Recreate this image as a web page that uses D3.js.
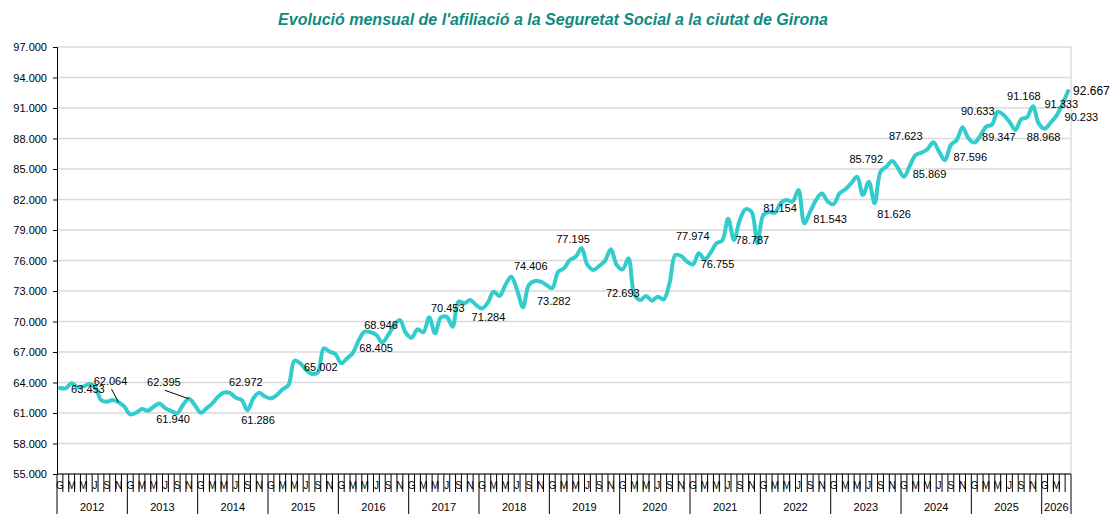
<!DOCTYPE html>
<html>
<head>
<meta charset="utf-8">
<script src="https://cdn.jsdelivr.net/npm/d3@7"></script>
<style>
    body { margin: 0; background: #fff; }
    svg { display: block; font-family: "Liberation Sans", Arial, sans-serif; }
</style>
</head>
<body>
<script>
const years = ['2012', '2013', '2014', '2015', '2016', '2017', '2018', '2019', '2020', '2021', '2022', '2023', '2024', '2025', '2026'];
const monthLetters = ['G', 'F', 'M', 'A', 'M', 'J', 'J', 'A', 'S', 'O', 'N', 'D'];

// afiliats a la Seguretat Social, mensual, gener 2012 - maig 2026
const afiliats = [
    63453, 63430, 63920, 63530, 63600, 63850, 63590, 62280, 62110, 62280, 62064, 61620,
    60870, 61030, 61390, 61230, 61620, 61940, 61460, 61200, 60970, 61790, 62395, 61790,
    61030, 61460, 61950, 62610, 63020, 62972, 62500, 62280, 61286, 62440, 63000, 62610,
    62440, 62770, 63330, 63750, 66140, 65890, 65230, 64840, 65002, 67360, 67030, 66800,
    65890, 66380, 66930, 68180, 69000, 68946, 68670, 67920, 68670, 69560, 70150, 68900,
    68405, 69230, 68940, 70410, 68840, 70410, 70453, 69490, 71950, 71790, 72110, 71620,
    71284, 71850, 72930, 72510, 73590, 74406, 73100, 71400, 73590, 73980, 73920, 73590,
    73282, 74900, 75230, 76050, 76370, 77195, 75560, 75070, 75460, 75980, 77100, 75560,
    75130, 76210, 72693, 72110, 72510, 72050, 72440, 72180, 73760, 76540, 76440, 75880,
    75620, 76710, 76120, 76755, 77690, 77974, 80100, 78020, 80000, 81050, 80800, 77700,
    80470, 80800, 80700, 81690, 81950, 81790, 82930, 79660, 80800, 81950, 82600, 81790,
    81543, 82600, 83000, 83590, 84240, 82440, 83750, 81626, 84740, 85230, 85792, 85070,
    84240, 85310, 86380, 86610, 86940, 87623, 86700, 85869, 87360, 87850, 89100, 88020,
    87596, 88250, 89160, 89347, 90633, 90310, 89650, 88840, 89890, 90090, 91168, 89460,
    88968, 89550, 90233, 91333, 92667
];

const yTicks = [55000, 58000, 61000, 64000, 67000, 70000, 73000, 76000, 79000, 82000, 85000, 88000, 91000, 94000, 97000];

// etiquetes de dades: mes (index) i text
const labelIdx = [0, 10, 22, 17, 29, 32, 44, 53, 60, 66, 72, 77, 84, 89, 98, 113, 111, 119, 122, 132, 142, 139, 149, 151, 156, 160, 159, 166, 168, 171, 170, 172];
const labelText = ['63.453', '62.064', '62.395', '61.940', '62.972', '61.286', '65.002', '68.946', '68.405', '70.453', '71.284', '74.406', '73.282', '77.195', '72.693', '77.974', '76.755', '78.787', '81.154', '81.543', '85.792', '81.626', '87.623', '85.869', '87.596', '90.633', '89.347', '91.168', '88.968', '91.333', '90.233', '92.667'];

// desplaçament de cada etiqueta respecte del punt
const labelNudge = [
    [28, 1], [-8, -21], [-25, -16.5], [13.5, 16], [16, -11], [10.5, 10], [3, -5.5], [10.5, -7],
    [-35.5, 10.5], [1, -8.5], [6.5, 9], [19.5, -11], [1.5, 12.5], [-8.5, -9.5], [-11.5, -1], [-29.5, -4.5],
    [7, 11.5], [-5, -3], [5, -4.5], [-3.5, 15], [-26, -2], [19.5, 10.5], [-27.5, -6.5], [-15.5, 14],
    [-4, 14], [-20, -0.5], [7, 12], [-9, -10], [-1, 8], [-1, -0.5], [25, 1.5], [5, 0]
];
const leaderLabels = ['62.064', '62.395'];

const margin = { top: 47, right: 41, bottom: 40, left: 57 },
    W = 1112, H = 514,
    width = W - margin.left - margin.right,
    height = H - margin.top - margin.bottom;

const locale = d3.formatLocale({ decimal: ',', thousands: '.', grouping: [3], currency: ['', ' €'] });
const numFormat = locale.format(',d');

const n = afiliats.length;
const xScale = d3.scaleBand()
    .domain(d3.range(n))
    .range([0, width]);
const bw = xScale.bandwidth();
const cx = i => xScale(i) + bw / 2;

const yScale = d3.scaleLinear()
    .domain([55000, 97000])
    .range([height, 0]);

const svgRoot = d3.select('body').append('svg')
    .attr('width', W)
    .attr('height', H);

// title
svgRoot.append('text')
    .attr('x', 553)
    .attr('y', 25)
    .attr('text-anchor', 'middle')
    .style('font-size', '16px')
    .style('font-weight', 'bold')
    .style('font-style', 'italic')
    .style('fill', '#0f8a80')
    .text("Evolució mensual de l'afiliació  a la Seguretat Social a la ciutat de Girona");

const svg = svgRoot.append('g')
    .attr('transform', 'translate(' + margin.left + ',' + margin.top + ')');

// gridlines
svg.append('g')
    .attr('class', 'grid')
    .selectAll('line')
    .data(yTicks)
    .enter().append('line')
    .attr('x1', 0)
    .attr('x2', width)
    .attr('y1', d => yScale(d))
    .attr('y2', d => yScale(d))
    .style('stroke', '#d9d9d9')
    .style('stroke-width', 1.3);
svg.append('line')
    .attr('x1', width).attr('x2', width)
    .attr('y1', 0).attr('y2', height)
    .style('stroke', '#d9d9d9')
    .style('stroke-width', 1.3);

// y axis
const yAxis = svg.append('g')
    .call(d3.axisLeft(yScale).tickValues(yTicks).tickFormat(numFormat).tickSize(4).tickPadding(6));
yAxis.select('.domain').style('stroke', '#000');
yAxis.selectAll('text')
    .style('font-size', '11px')
    .style('font-family', '"Liberation Sans", Arial, sans-serif')
    .style('fill', '#000');

// x axis (two levels: months and years)
const xAxis = svg.append('g')
    .attr('transform', 'translate(0,' + height + ')');
xAxis.append('line')
    .attr('x1', 0).attr('x2', width)
    .attr('y1', 0).attr('y2', 0)
    .style('stroke', '#000');
xAxis.selectAll('.mtick')
    .data(d3.range(n + 1))
    .enter().append('line')
    .attr('class', 'mtick')
    .attr('x1', i => (i < n ? xScale(i) : width))
    .attr('x2', i => (i < n ? xScale(i) : width))
    .attr('y1', 0)
    .attr('y2', i => (i % 12 === 0 || i === n) ? 40 : 18)
    .style('stroke', '#000')
    .style('stroke-width', 1);
xAxis.selectAll('.mlabel')
    .data(d3.range(n).filter(i => i % 2 === 0 && i < n - 1))
    .enter().append('text')
    .attr('class', 'mlabel')
    .attr('x', i => cx(i))
    .attr('y', 15)
    .attr('text-anchor', 'middle')
    .style('font-size', '10px')
    .text(i => monthLetters[i % 12]);
xAxis.selectAll('.ylabel')
    .data(years)
    .enter().append('text')
    .attr('class', 'ylabel')
    .attr('x', (d, k) => {
        const a = xScale(k * 12);
        const b = (k + 1) * 12 < n ? xScale((k + 1) * 12) : width;
        return (a + b) / 2;
    })
    .attr('y', 37)
    .attr('text-anchor', 'middle')
    .style('font-size', '11px')
    .text(d => d);

// line
const line = d3.line()
    .x((d, i) => cx(i))
    .y(d => yScale(d))
    .curve(d3.curveCatmullRom.alpha(0.5));

svg.append('path')
    .datum(afiliats)
    .attr('d', line)
    .style('fill', 'none')
    .style('stroke', '#33cccc')
    .style('stroke-width', 4)
    .style('stroke-linejoin', 'round')
    .style('stroke-linecap', 'round');

// data labels
const labels = labelIdx.map((i, k) => ({ i: i, text: labelText[k], dx: labelNudge[k][0], dy: labelNudge[k][1] }));

svg.selectAll('.leader')
    .data(labels.filter(d => leaderLabels.indexOf(d.text) >= 0))
    .enter().append('line')
    .attr('class', 'leader')
    .attr('x1', d => cx(d.i) + d.dx + 1)
    .attr('y1', d => yScale(afiliats[d.i]) + d.dy + 8)
    .attr('x2', d => cx(d.i))
    .attr('y2', d => yScale(afiliats[d.i]))
    .style('stroke', '#000')
    .style('stroke-width', 1);

svg.selectAll('.dlabel')
    .data(labels)
    .enter().append('text')
    .attr('class', 'dlabel')
    .attr('x', d => cx(d.i) + d.dx)
    .attr('y', d => yScale(afiliats[d.i]) + d.dy)
    .attr('text-anchor', (d, k) => k === labels.length - 1 ? 'start' : 'middle')
    .attr('dominant-baseline', 'central')
    .style('font-size', (d, k) => k === labels.length - 1 ? '12px' : '11px')
    .style('fill', '#000')
    .text(d => d.text);
</script>
</body>
</html>
